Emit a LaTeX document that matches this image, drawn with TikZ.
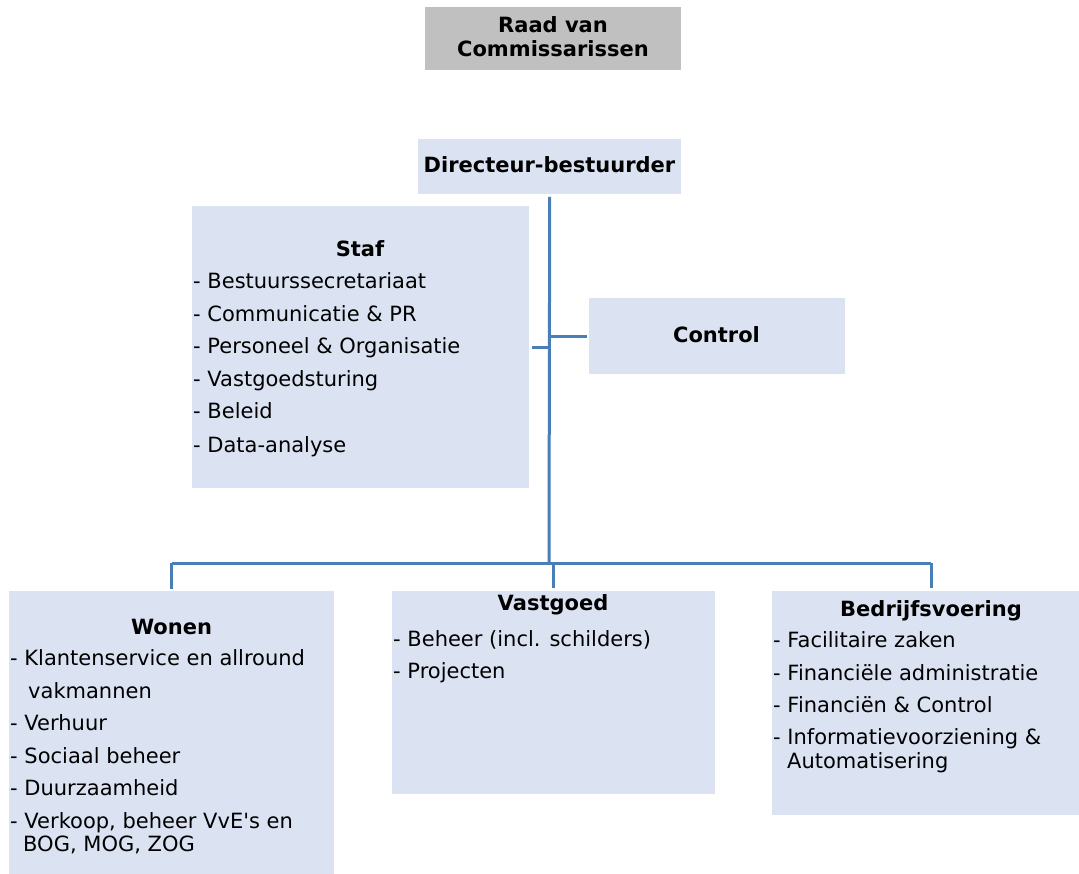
\documentclass[tikz,border=0pt]{standalone}
\usepackage{fontspec}
\setmainfont[Ligatures=TeXOff]{DejaVu Sans}
\definecolor{boxblue}{HTML}{DBE3F3}
\definecolor{boxgray}{HTML}{C0C0C0}
\definecolor{linkblue}{HTML}{4A7EB6}
\begin{document}
\begin{tikzpicture}[x=1pt,y=-1pt,
  box/.style={fill=boxblue,draw=none,inner sep=0pt,anchor=north west},
  graybox/.style={fill=boxgray,draw=none,inner sep=0pt,anchor=north west},
  title/.style={anchor=base,inner sep=0pt,font=\fontsize{21}{24}\selectfont\bfseries},
  item/.style={anchor=base west,inner sep=0pt,font=\fontsize{21}{24}\selectfont},
  link/.style={draw=linkblue,line width=3pt}]
\clip (0,0) rectangle (1079,874);
% boxes
\node[graybox,minimum width=256pt,minimum height=63pt] (raad) at (425,7) {};
\node[box,minimum width=263pt,minimum height=55pt] (dir) at (418,139) {};
\node[box,minimum width=337pt,minimum height=282pt] (staf) at (192,206) {};
\node[box,minimum width=256pt,minimum height=76pt] (ctrl) at (589,298) {};
\node[box,minimum width=325pt,minimum height=290pt] (wonen) at (9,591) {};
\node[box,minimum width=323pt,minimum height=203pt] (vast) at (392,591) {};
\node[box,minimum width=318pt,minimum height=224pt] (bedr) at (772,591) {};
% connectors
\coordinate (bar) at (549,563);
\draw[link,shorten <=2.5pt] (dir.south) -- (bar);
\draw[link,shorten <=3pt] (staf.east) -- (staf.east -| bar);
\draw[link,shorten <=2pt] (ctrl.west) -- (ctrl.west -| bar);
\draw[link] (wonen.north |- bar) -- (bedr.north |- bar);
\draw[link,shorten >=2.5pt] (wonen.north |- bar) -- (wonen.north);
\draw[link,shorten >=3pt] (vast.north |- bar) -- (vast.north);
\draw[link,shorten >=3pt] (bedr.north |- bar) -- (bedr.north);
% texts
\node[title] (raadt1) at (553,33) {Raad van};
\node[title] (raadt2) at (553,57) {Commissarissen};
\node[title] (dirt) at (549.5,173) {Directeur-bestuurder};
\node[title] (staft) at (360,257) {Staf};
\node[item] (s1) at (193,289) {- Bestuurssecretariaat};
\node[item] (s2) at (193,322) {- Communicatie \& PR};
\node[item] (s3) at (193,354) {- Personeel \& Organisatie};
\node[item] (s4) at (193,387) {- Vastgoedsturing};
\node[item] (s5) at (193,419) {- Beleid};
\node[item] (s6) at (193,452) {- Data-analyse};
\node[title] (ctrlt) at (716.5,343) {Control};
\node[title] (wonent) at (171.5,634) {Wonen};
\node[item] (w1) at (10,665) {- Klantenservice en allround};
\node[item] (w1b) at (28,698) {vakmannen};
\node[item] (w2) at (10,730) {- Verhuur};
\node[item] (w3) at (10,763) {- Sociaal beheer};
\node[item] (w4) at (10,795) {- Duurzaamheid};
\node[item] (w5) at (10,828) {- Verkoop, beheer VvE's en};
\node[item] (w5b) at (23,851) {BOG, MOG, ZOG};
\node[title] (vastt) at (553,610) {Vastgoed};
\node[item] (v1) at (393,646) {- Beheer (incl. schilders)};
\node[item] (v2) at (393,678) {- Projecten};
\node[title] (bedrt) at (931,616) {Bedrijfsvoering};
\node[item] (b1) at (773,647) {- Facilitaire zaken};
\node[item] (b2) at (773,680) {- Financiële administratie};
\node[item] (b3) at (773,712) {- Financiën \& Control};
\node[item] (b4) at (773,744) {- Informatievoorziening \&};
\node[item] (b4b) at (787,768) {Automatisering};
\end{tikzpicture}
\end{document}
